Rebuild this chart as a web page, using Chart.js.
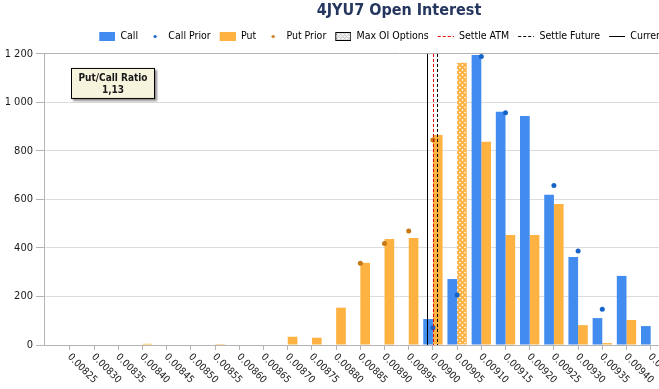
<!DOCTYPE html>
<html>
<head>
<meta charset="utf-8">
<script src="https://cdn.jsdelivr.net/npm/chart.js@4/dist/chart.umd.min.js"></script>
<style>
  html, body { margin: 0; padding: 0; background: #fff; overflow: hidden; }
  #wrap { width: 758px; height: 389px; }
</style>
</head>
<body>
<div id="wrap"><canvas id="oiChart" width="758" height="389"></canvas></div>
<script>
// --- Data ---
const strikes = [0.00825, 0.00830, 0.00835, 0.00840, 0.00845, 0.00850, 0.00855, 0.00860,
  0.00865, 0.00870, 0.00875, 0.00880, 0.00885, 0.00890, 0.00895, 0.00900, 0.00905,
  0.00910, 0.00915, 0.00920, 0.00925, 0.00930, 0.00935, 0.00940, 0.00945];
const callOI = [0, 0, 0, 0, 0, 0, 0, 0, 0, 0, 0, 0, 0, 0, 0,
  107, 272, 1196, 962, 944, 619, 363, 111, 285, 78];
const putOI = [0, 0, 0, 5, 0, 0, 4, 0, 0, 34, 30, 154, 339, 437, 441,
  866, 1164, 838, 454, 454, 581, 82, 8, 103, 0];
const callPrior = [null, null, null, null, null, null, null, null, null, null, null, null, null, null, null,
  71, 206, 1189, 958, null, 658, 388, 147, null, null];
const putPrior = [null, null, null, null, null, null, null, null, null, null, null, null, 337, 419, 470,
  845, null, null, null, null, null, null, null, null, null];
const maxOIStrike = 0.00905;
const currentPrice = 0.0089884;
const settleATM = 0.00900;
const settleFuture = 0.0090091;
const putCallRatio = 1.13;
const yTicks = [0, 200, 400, 600, 800, 1000, 1200];

// --- Styles ---
const FONT = "'DejaVu Sans Condensed', 'Liberation Sans', sans-serif";
const callColor = '#428bef';
const putColor = '#fdb241';
const callPriorColor = '#1764c8';
const putPriorColor = '#c87814';
const axisGray = '#b4b4b4';
const gridGray = '#dcdcdc';
const textColor = '#1a1a1a';

Chart.defaults.font.family = FONT;

const toPoints = arr => strikes.map((s, i) => ({ x: s, y: arr[i] }));
const fmtThousands = v => String(v).replace(/\B(?=(\d{3})+(?!\d))/g, ' ');

// hatch pattern for the max OI bar
function makeHatch(color, bg) {
  const c = document.createElement('canvas');
  c.width = 5; c.height = 5;
  const g = c.getContext('2d');
  g.fillStyle = bg;
  g.fillRect(0, 0, 5, 5);
  g.strokeStyle = color;
  g.lineWidth = 2;
  g.beginPath();
  g.moveTo(-1, -1); g.lineTo(6, 6);
  g.moveTo(6, -1); g.lineTo(-1, 6);
  g.stroke();
  return document.createElement('canvas').getContext('2d').createPattern(c, 'repeat');
}
const hatch = makeHatch(putColor, '#ffffff');

// --- Legend markers (7px transparent lead + 16x9 marker) ---
const LEAD = 7;
function marker(draw) {
  const c = document.createElement('canvas');
  c.width = LEAD + 16; c.height = 9;
  const g = c.getContext('2d');
  g.translate(LEAD, 0);
  g.beginPath();
  g.rect(0, 0, 16, 9);
  g.clip();
  draw(g);
  return c;
}
const legendMarkers = {
  box: col => marker(g => { g.fillStyle = col; g.fillRect(0, 0, 16, 9); }),
  dot: col => marker(g => { g.fillStyle = col; g.beginPath(); g.arc(8, 4.5, 1.6, 0, Math.PI * 2); g.fill(); }),
  hatchBox: () => marker(g => {
    g.fillStyle = '#fff'; g.fillRect(0, 0, 16, 9);
    g.strokeStyle = '#aaa'; g.lineWidth = 0.8;
    g.beginPath();
    for (let i = -9; i < 16; i += 4) { g.moveTo(i, 0); g.lineTo(i + 9, 9); g.moveTo(i + 9, 0); g.lineTo(i, 9); }
    g.stroke();
    g.strokeStyle = '#000'; g.lineWidth = 1; g.strokeRect(0.5, 0.5, 15, 8);
  }),
  line: (col, dash) => marker(g => {
    g.strokeStyle = col; g.lineWidth = 1; g.setLineDash(dash);
    g.beginPath(); g.moveTo(0, 4.5); g.lineTo(16, 4.5); g.stroke();
  })
};
const legendItems = [
  { text: 'Call', pointStyle: legendMarkers.box(callColor) },
  { text: 'Call Prior', pointStyle: legendMarkers.dot(callPriorColor) },
  { text: 'Put', pointStyle: legendMarkers.box(putColor) },
  { text: 'Put Prior', pointStyle: legendMarkers.dot(putPriorColor) },
  { text: 'Max OI Options', pointStyle: legendMarkers.hatchBox() },
  { text: 'Settle ATM', pointStyle: legendMarkers.line('#e00000', [3, 2]) },
  { text: 'Settle Future', pointStyle: legendMarkers.line('#000', [3, 2]) },
  { text: 'Current', pointStyle: legendMarkers.line('#000', []) }
];

// --- Plugins: price lines, x labels, put/call box ---
const priceLines = {
  id: 'priceLines',
  afterDatasetsDraw(chart) {
    const { ctx, chartArea, scales: { x } } = chart;
    const lines = [
      { v: currentPrice, color: '#000', dash: [] },
      { v: settleATM, color: '#e00000', dash: [3, 2] },
      { v: settleFuture, color: '#000', dash: [3, 2] }
    ];
    ctx.save();
    ctx.lineWidth = 1;
    lines.forEach(l => {
      const px = Math.round(x.getPixelForValue(l.v)) + 0.5;
      ctx.strokeStyle = l.color;
      ctx.setLineDash(l.dash);
      ctx.beginPath();
      ctx.moveTo(px, chartArea.top);
      ctx.lineTo(px, chartArea.bottom);
      ctx.stroke();
    });
    ctx.restore();
  }
};

// x labels run down-right from each tick
const xLabels = {
  id: 'xLabels',
  afterDraw(chart) {
    const { ctx, chartArea, scales: { x } } = chart;
    ctx.save();
    ctx.font = '10px ' + FONT;
    ctx.fillStyle = textColor;
    ctx.textAlign = 'left';
    ctx.textBaseline = 'middle';
    strikes.forEach(v => {
      const px = x.getPixelForValue(v);
      ctx.save();
      ctx.translate(px - 1, chartArea.bottom + 10.5);
      ctx.rotate(Math.PI / 4);
      ctx.fillText(v.toFixed(5), 0, 0);
      ctx.restore();
    });
    ctx.restore();
  }
};

const ratioBox = {
  id: 'ratioBox',
  afterDraw(chart) {
    const { ctx, chartArea } = chart;
    const bx = chartArea.left + 27, by = chartArea.top + 14, bw = 84, bh = 31;
    ctx.save();
    ctx.shadowColor = 'rgba(0,0,0,0.45)';
    ctx.shadowOffsetX = 2;
    ctx.shadowOffsetY = 2;
    ctx.shadowBlur = 2;
    ctx.fillStyle = '#f6f4dc';
    ctx.fillRect(bx, by, bw, bh);
    ctx.shadowColor = 'transparent';
    ctx.strokeStyle = '#000';
    ctx.lineWidth = 1;
    ctx.strokeRect(bx + 0.5, by + 0.5, bw - 1, bh - 1);
    ctx.fillStyle = textColor;
    ctx.font = 'bold 10px ' + FONT;
    ctx.textAlign = 'center';
    ctx.textBaseline = 'middle';
    ctx.fillText('Put/Call Ratio', bx + bw / 2, by + 10);
    ctx.fillText(putCallRatio.toFixed(2).replace('.', ','), bx + bw / 2, by + 22);
    ctx.restore();
  }
};

// --- Chart ---
const ctx = document.getElementById('oiChart').getContext('2d');
const oiChart = new Chart(ctx, {
  type: 'bar',
  data: {
    datasets: [
      {
        type: 'line', label: 'Call Prior', data: toPoints(callPrior), showLine: false,
        pointRadius: 2.5, pointBorderWidth: 0, pointBackgroundColor: callPriorColor, order: 0
      },
      {
        type: 'line', label: 'Put Prior', data: toPoints(putPrior), showLine: false,
        pointRadius: 2.5, pointBorderWidth: 0, pointBackgroundColor: putPriorColor, order: 0
      },
      {
        label: 'Call', data: toPoints(callOI), backgroundColor: callColor,
        categoryPercentage: 0.8, barPercentage: 1, order: 1
      },
      {
        label: 'Put', data: toPoints(putOI),
        backgroundColor: c => (c.raw && c.raw.x === maxOIStrike ? hatch : putColor),
        categoryPercentage: 0.8, barPercentage: 1, order: 1
      }
    ]
  },
  options: {
    responsive: false,
    animation: false,
    layout: { padding: 0 },
    plugins: {
      tooltip: { enabled: false },
      title: {
        display: true, text: '4JYU7 Open Interest', fullSize: false,
        color: '#26375f', font: { size: 16, weight: 'bold' },
        padding: { top: 1.4, bottom: 8.65 }
      },
      // thin spacer between legend and plot
      subtitle: {
        display: true, text: '', weight: 500,
        font: { size: 1 }, padding: { top: 0, bottom: 1 }
      },
      legend: {
        onClick: null,
        labels: {
          usePointStyle: true, pointStyleWidth: LEAD + 16, boxHeight: 9, padding: 2,
          color: '#000', font: { size: 10.5 },
          generateLabels: () => legendItems.map((it, i) => ({
            text: it.text, pointStyle: it.pointStyle, fillStyle: 'transparent',
            strokeStyle: 'transparent', lineWidth: 0, hidden: false, index: i
          }))
        }
      }
    },
    scales: {
      x: {
        type: 'linear', min: 0.0081963, max: 0.0096635, offset: false,
        grid: { offset: false, drawOnChartArea: false, drawTicks: true, tickLength: 5, color: axisGray },
        border: { color: axisGray },
        ticks: { display: false },
        afterBuildTicks: s => { s.ticks = strikes.map(v => ({ value: v })); },
        afterFit: s => { s.height = 44; }
      },
      y: {
        min: 0, max: 1200,
        afterBuildTicks: s => { s.ticks = yTicks.map(v => ({ value: v })); },
        ticks: { color: textColor, font: { size: 11 }, padding: 3, callback: v => fmtThousands(v) },
        grid: {
          color: c => (c.tick && c.tick.value === 1200 ? axisGray : gridGray),
          tickColor: axisGray, tickLength: 8
        },
        border: { color: axisGray },
        afterFit: s => { s.width = 44; }
      }
    }
  },
  plugins: [priceLines, xLabels, ratioBox]
});
</script>
</body>
</html>
